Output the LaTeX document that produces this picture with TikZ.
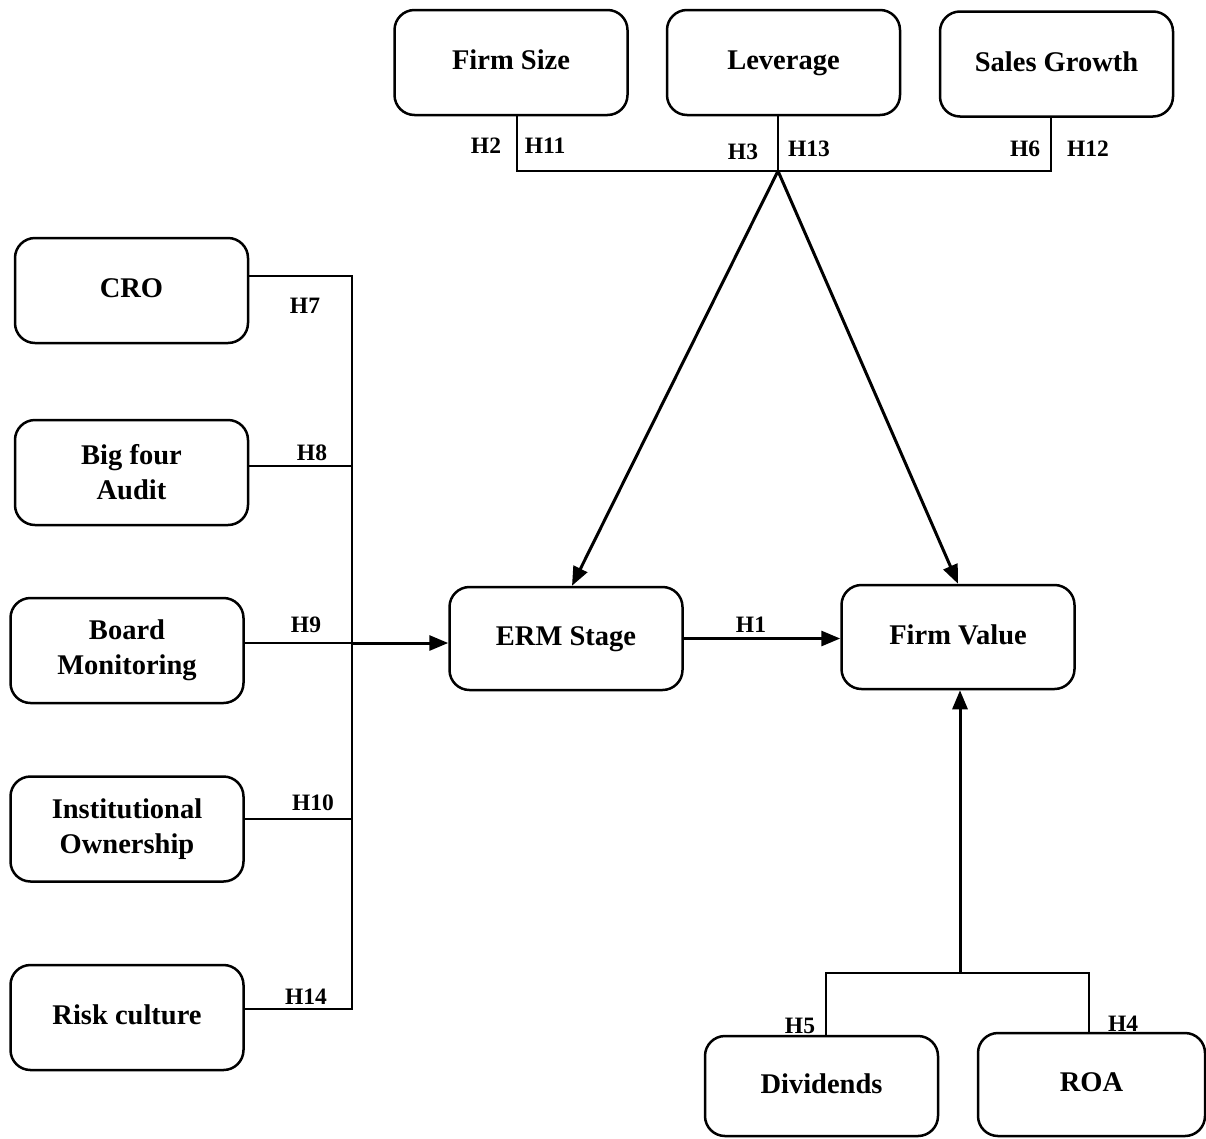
\documentclass[tikz,border=0pt]{standalone}
\usepackage{fontspec}
\setmainfont{Liberation Serif}
\usetikzlibrary{arrows.meta}
\begin{document}
\begin{tikzpicture}[x=1pt,y=-1pt,
  box/.style={draw,line width=2.5pt,rounded corners=20pt,align=center,
    minimum width=233pt,minimum height=105pt,inner sep=0pt,
    font=\fontsize{28.5}{35}\selectfont\bfseries},
  oneline/.style={text height=20pt,text depth=6pt},
  hyp/.style={inner sep=0pt,font=\fontsize{23.5}{26}\selectfont\bfseries},
  link/.style={line width=1.5pt},
  flow/.style={line width=3pt,-{Triangle[length=19pt,width=15pt]}}]
\useasboundingbox (0,0) rectangle (1206,1138);

% moderators on top
\node[box,oneline] (fs)  at (511,62.5)   {Firm Size};
\node[box,oneline] (lev) at (783.5,62.5) {Leverage};
\node[box,oneline] (sg)  at (1056.5,64)  {Sales Growth};

% governance drivers on the left
\node[box,oneline] (cro)   at (131.5,290.5) {CRO};
\node[box] (big)   at (131.5,472.5) {Big four\\Audit};
\node[box] (board) at (127,650.5)   {Board\\Monitoring};
\node[box] (inst)  at (127,829)     {Institutional\\Ownership};
\node[box,oneline] (risk)  at (127,1017.5)  {Risk culture};

% core constructs
\node[box,oneline,minimum height=103pt] (erm) at (566,638.5) {ERM Stage};
\node[box,oneline,minimum height=104pt] (fv)  at (958,637)   {Firm Value};

% financial controls at the bottom
\node[box,oneline,minimum height=100pt] (div) at (821.5,1086) {Dividends};
\node[box,oneline,minimum width=227pt,minimum height=103pt] (roa) at (1091.5,1084.5) {ROA};

% junction points
\coordinate (tfs) at (517,171);
\coordinate (tj)  at (778,171);
\coordinate (tsg) at (1051,171);
\coordinate (b7)  at (352,276);
\coordinate (b8)  at (352,466);
\coordinate (b9)  at (352,643);
\coordinate (b10) at (352,819);
\coordinate (b14) at (352,1009);
\coordinate (bl)  at (826,973);
\coordinate (bj)  at (960,973);
\coordinate (br)  at (1089,973);

% top bus
\draw[link] (fs.south -| tfs) -- (tfs) -- (tsg) -- (sg.south -| tsg);
\draw[link] (lev.south -| tj) -- (tj);
\draw[flow] (tj) -- ([xshift=6pt]erm.north);
\draw[flow] (tj) -- (fv.north);

% left bus
\draw[link] (cro.east |- b7) -- (b7) -- (b14) -- (risk.east |- b14);
\draw[link] (big.east |- b8) -- (b8);
\draw[link] (board.east |- b9) -- (b9);
\draw[link] (inst.east |- b10) -- (b10);
\draw[flow] (b9) -- (erm.west |- b9);

% main path
\draw[flow] (erm.east) -- (erm.east -| fv.west);

% bottom bus
\draw[link] (div.north -| bl) -- (bl) -- (br) -- (roa.north -| br);
\draw[flow] (bj) -- (fv.south -| bj);

% hypothesis labels
\node[hyp] (h2)  at (486,146)  {H2};
\node[hyp] (h11) at (545,146)  {H11};
\node[hyp] (h3)  at (743,152)  {H3};
\node[hyp] (h13) at (809,149)  {H13};
\node[hyp] (h6)  at (1025,149) {H6};
\node[hyp] (h12) at (1088,149) {H12};
\node[hyp] (h7)  at (305,306)  {H7};
\node[hyp] (h8)  at (312,453)  {H8};
\node[hyp] (h9)  at (306,625)  {H9};
\node[hyp] (h10) at (313,803)  {H10};
\node[hyp] (h14) at (306,997)  {H14};
\node[hyp] (h1)  at (751,625)  {H1};
\node[hyp] (h5)  at (800,1026) {H5};
\node[hyp] (h4)  at (1123,1024) {H4};
\end{tikzpicture}
\end{document}
